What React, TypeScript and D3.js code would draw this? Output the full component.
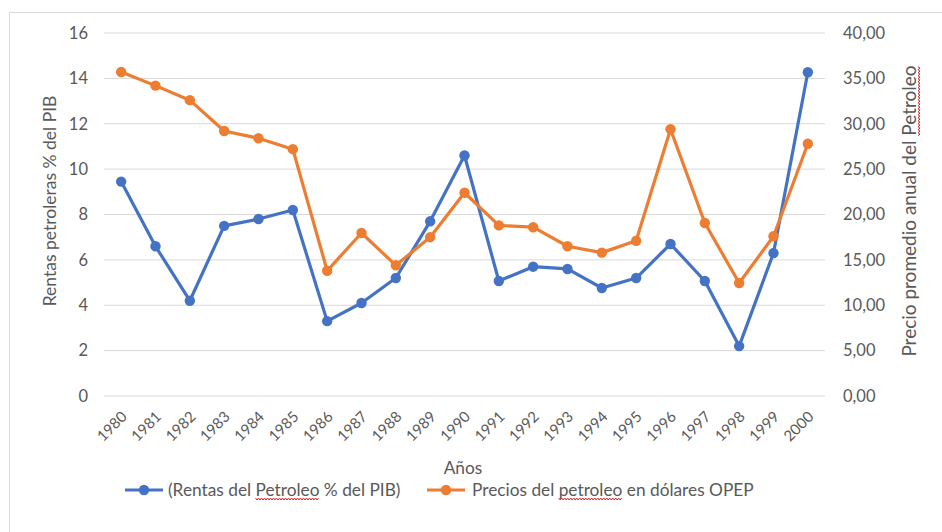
import React, { useLayoutEffect, useRef, useState } from "react";
import * as d3 from "d3";

const years = ["1980","1981","1982","1983","1984","1985","1986","1987","1988","1989","1990","1991","1992","1993","1994","1995","1996","1997","1998","1999","2000"];
const rentas = [9.45, 6.6, 4.2, 7.5, 7.8, 8.2, 3.3, 4.1, 5.2, 7.7, 10.6, 5.07, 5.7, 5.6, 4.76, 5.2, 6.7, 5.07, 2.2, 6.3, 14.27];
const precios = [35.7, 34.2, 32.6, 29.2, 28.4, 27.2, 13.8, 17.96, 14.4, 17.5, 22.4, 18.8, 18.6, 16.5, 15.8, 17.1, 29.4, 19.06, 12.45, 17.6, 27.8];
const leftTicks = [0, 2, 4, 6, 8, 10, 12, 14, 16];
const rightTicks = [0, 5, 10, 15, 20, 25, 30, 35, 40];
const seriesNames = ["(Rentas del Petroleo % del PIB)", "Precios del petroleo en dólares OPEP"];
const misspelled = ["Petroleo", "petroleo"];
const leftTitle = "Rentas petroleras % del PIB";
const rightTitle = "Precio promedio anual del Petroleo";
const xTitle = "Años";
const colors = ["#4472C4", "#ED7D31"];

const W = 942, H = 532;
const FONT = "Lato, 'Liberation Sans', sans-serif";
const GREY = "#595959";

function wavy(x0: number, x1: number, y: number): string {
  const pts: [number, number][] = [];
  let k = 0;
  for (let x = x0; x <= x1; x += 1.5) {
    pts.push([x, y + (k % 2 === 0 ? -1 : 1)]);
    k++;
  }
  return d3.line()(pts) || "";
}

export default function App() {
  const left = 104, right = 825, top = 33, bottom = 396;
  const x = d3.scaleBand<string>().domain(years).range([left, right]);
  const yL = d3.scaleLinear().domain([0, 16]).range([bottom, top]);
  const yR = d3.scaleLinear().domain([0, 40]).range([bottom, top]);
  const cx = (d: string) => (x(d) as number) + x.bandwidth() / 2;
  const lineL = d3.line<number>().x((_, i) => cx(years[i])).y((d) => yL(d));
  const lineR = d3.line<number>().x((_, i) => cx(years[i])).y((d) => yR(d));
  const fmt = (v: number) => v.toFixed(2).replace(".", ",");

  const legRefs = [useRef<SVGTextElement>(null), useRef<SVGTextElement>(null)];
  const rtRef = useRef<SVGTextElement>(null);
  const [sq, setSq] = useState<{ leg: [number, number][]; rt: [number, number] | null }>({ leg: [], rt: null });

  const legX = [125, 427];
  const legTextX = [168, 472];
  const legY = 490;
  const rtCx = 909, rtCy = 211;

  useLayoutEffect(() => {
    const leg: [number, number][] = [];
    legRefs.forEach((r, k) => {
      const el = r.current;
      if (!el) return;
      const s = seriesNames[k];
      const i = s.indexOf(misspelled[k]);
      const a = el.getSubStringLength(0, i);
      const b = el.getSubStringLength(i, misspelled[k].length);
      leg.push([legTextX[k] + a, legTextX[k] + a + b]);
    });
    let rt: [number, number] | null = null;
    if (rtRef.current) {
      const total = rtRef.current.getComputedTextLength();
      const i = rightTitle.indexOf("Petroleo");
      const a = rtRef.current.getSubStringLength(0, i);
      const b = rtRef.current.getSubStringLength(i, 8);
      rt = [a - total / 2, a - total / 2 + b];
    }
    setSq({ leg, rt });
  }, []);

  return (
    <svg width={W} height={H} style={{ position: "absolute", left: 0, top: 0, background: "#fff" }} fontFamily={FONT}>
      <rect x={9.5} y={12.5} width={W} height={H} fill="#fff" stroke="#d9d9d9" />
      {leftTicks.map((t) => (
        <line key={t} x1={left} x2={right} y1={yL(t)} y2={yL(t)} stroke="#d9d9d9" strokeWidth={1} />
      ))}
      {leftTicks.map((t) => (
        <text key={t} x={88} y={yL(t)} dy="0.35em" textAnchor="end" fontSize={16.5} fill={GREY}>{t}</text>
      ))}
      {rightTicks.map((t) => (
        <text key={t} x={843} y={yR(t)} dy="0.35em" textAnchor="start" fontSize={16.5} fill={GREY}>{fmt(t)}</text>
      ))}
      {years.map((yr) => (
        <text key={yr} transform={`translate(${cx(yr) + 3},${bottom + 18}) rotate(-45)`} textAnchor="end" dy="0.35em" fontSize={15} fill={GREY}>{yr}</text>
      ))}
      <text transform={`translate(50,201) rotate(-90)`} textAnchor="middle" dy="0.35em" fontSize={17.5} fill={GREY}>{leftTitle}</text>
      <text ref={rtRef} transform={`translate(${rtCx},${rtCy}) rotate(-90)`} textAnchor="middle" dy="0.35em" fontSize={19} fill={GREY}>{rightTitle}</text>
      {sq.rt && (
        <g transform={`translate(${rtCx},${rtCy}) rotate(-90)`}>
          <path d={wavy(sq.rt[0], sq.rt[1], 10)} fill="none" stroke="#e02020" strokeWidth={1} />
        </g>
      )}
      <text x={463} y={468} textAnchor="middle" dy="0.35em" fontSize={17.3} fill={GREY}>{xTitle}</text>

      <path d={lineL(rentas) || ""} fill="none" stroke={colors[0]} strokeWidth={3.2} strokeLinejoin="round" />
      {rentas.map((v, i) => (
        <circle key={i} cx={cx(years[i])} cy={yL(v)} r={5.2} fill={colors[0]} />
      ))}
      <path d={lineR(precios) || ""} fill="none" stroke={colors[1]} strokeWidth={3.2} strokeLinejoin="round" />
      {precios.map((v, i) => (
        <circle key={i} cx={cx(years[i])} cy={yR(v)} r={5.2} fill={colors[1]} />
      ))}

      {[0, 1].map((k) => (
        <g key={k}>
          <line x1={legX[k]} x2={legX[k] + 38} y1={legY} y2={legY} stroke={colors[k]} strokeWidth={3.2} />
          <circle cx={legX[k] + 19} cy={legY} r={5.2} fill={colors[k]} />
          <text ref={legRefs[k]} x={legTextX[k]} y={legY} dy="0.35em" fontSize={17.3} fill={GREY}>{seriesNames[k]}</text>
        </g>
      ))}
      {sq.leg.map((s, k) => (
        <path key={k} d={wavy(s[0], s[1], legY + 9)} fill="none" stroke="#e02020" strokeWidth={1} />
      ))}
    </svg>
  );
}
